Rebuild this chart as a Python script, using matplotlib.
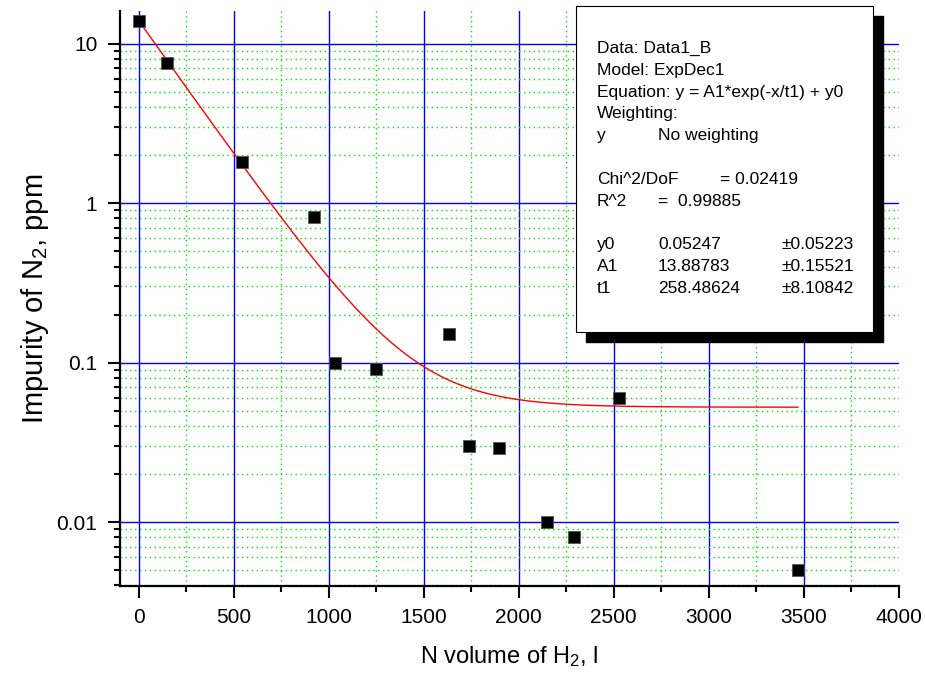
import numpy as np
import matplotlib
matplotlib.use("Agg")
import matplotlib.pyplot as plt
from matplotlib.ticker import FixedLocator, LogLocator, NullFormatter, FixedFormatter
from matplotlib.patches import Rectangle

plt.rcParams['font.family'] = ['Liberation Sans', 'DejaVu Sans']
plt.rcParams['mathtext.default'] = 'regular'

# measured points
volume = [0, 150, 546, 922, 1035, 1249, 1632, 1740, 1898, 2149, 2291, 2526, 3470]
impurity = [13.9, 7.5, 1.8, 0.82, 0.10, 0.091, 0.15, 0.030, 0.029, 0.010, 0.008, 0.060, 0.005]

# ExpDec1 fit parameters from the report box
y0 = 0.05247
A1 = 13.88783
t1 = 258.48624

x_ticks = [0, 500, 1000, 1500, 2000, 2500, 3000, 3500, 4000]
y_ticks = [0.01, 0.1, 1, 10]
y_tick_labels = ["0.01", "0.1", "1", "10"]

report = [
    ("Data: Data1_B", None, None),
    ("Model: ExpDec1", None, None),
    ("Equation: y = A1*exp(-x/t1) + y0", None, None),
    ("Weighting:", None, None),
    ("y", "No weighting", None),
    ("", None, None),
    ("Chi^2/DoF", None, "= 0.02419"),
    ("R^2", "=  0.99885", None),
    ("", None, None),
    ("y0", "0.05247", "\u00b10.05223"),
    ("A1", "13.88783", "\u00b10.15521"),
    ("t1", "258.48624", "\u00b18.10842"),
]

W, H = 926, 681
fig = plt.figure(figsize=(W / 100, H / 100), dpi=100)
ax = fig.add_axes([119.6 / W, 95 / H, (898.6 - 119.6) / W, (670 - 95) / H])

ax.set_yscale('log')
ax.set_xlim(-100, 4000)
ax.set_ylim(0.00397, 16.0)

# grid
ax.set_axisbelow(True)
ax.xaxis.set_major_locator(FixedLocator(x_ticks))
ax.xaxis.set_minor_locator(FixedLocator([v + 250 for v in x_ticks[:-1]]))
ax.yaxis.set_major_locator(FixedLocator(y_ticks))
ax.yaxis.set_major_formatter(FixedFormatter(y_tick_labels))
ax.yaxis.set_minor_locator(LogLocator(base=10, subs=np.arange(2, 10)))
ax.yaxis.set_minor_formatter(NullFormatter())
ax.grid(which='major', color='#0000ff', lw=1.0, ls='-')
ax.grid(which='minor', color='#00e600', lw=1.0, ls=(0, (1, 2.5)))
# no grid line on the right edge
ax.xaxis.get_major_ticks()[-1].gridline.set_visible(False)

# fit curve
xf = np.linspace(0, volume[-1], 400)
ax.plot(xf, A1 * np.exp(-xf / t1) + y0, color='red', lw=1.0, zorder=3)

ax.plot(volume, impurity, ls='none', marker='s', ms=8, mfc='black',
        mec='#555555', mew=0.6, zorder=4)

for s in ['top', 'right']:
    ax.spines[s].set_visible(False)
for s in ['left', 'bottom']:
    ax.spines[s].set_linewidth(1.6)

ax.tick_params(which='major', direction='out', length=8.5, width=1.5,
               labelsize=15, pad=7.5)
ax.tick_params(which='minor', direction='out', length=4.3, width=1.5)

ax.set_xlabel("N volume of H$_2$, l", fontsize=17, labelpad=12)
ax.set_ylabel("Impurity of N$_2$, ppm", fontsize=21, labelpad=4)

# report box with shadow
def px(x, y):
    return x / W, 1 - y / H

bx0, by0, bx1, by1 = 576, 6, 873, 332
shadow = Rectangle(px(bx0 + 10, by1 + 10), (bx1 - bx0) / W, (by1 - by0) / H,
                   transform=fig.transFigure, facecolor='black', edgecolor='black',
                   zorder=5)
box = Rectangle(px(bx0, by1), (bx1 - bx0) / W, (by1 - by0) / H,
                transform=fig.transFigure, facecolor='white', edgecolor='black',
                lw=0.8, zorder=6)
fig.patches.extend([shadow, box])

line_y = 48.5
for c1, c2, c3 in report:
    if c1:
        fig.text(*px(597, line_y), c1, fontsize=12.5, va='center', ha='left', zorder=7)
    if c2:
        fig.text(*px(658, line_y), c2, fontsize=12.5, va='center', ha='left', zorder=7)
    if c3:
        xpos = 720 if c1.startswith("Chi") else 782
        fig.text(*px(xpos, line_y), c3, fontsize=12.5, va='center', ha='left', zorder=7)
    line_y += 21.8

fig.savefig("out.png", dpi=100)
